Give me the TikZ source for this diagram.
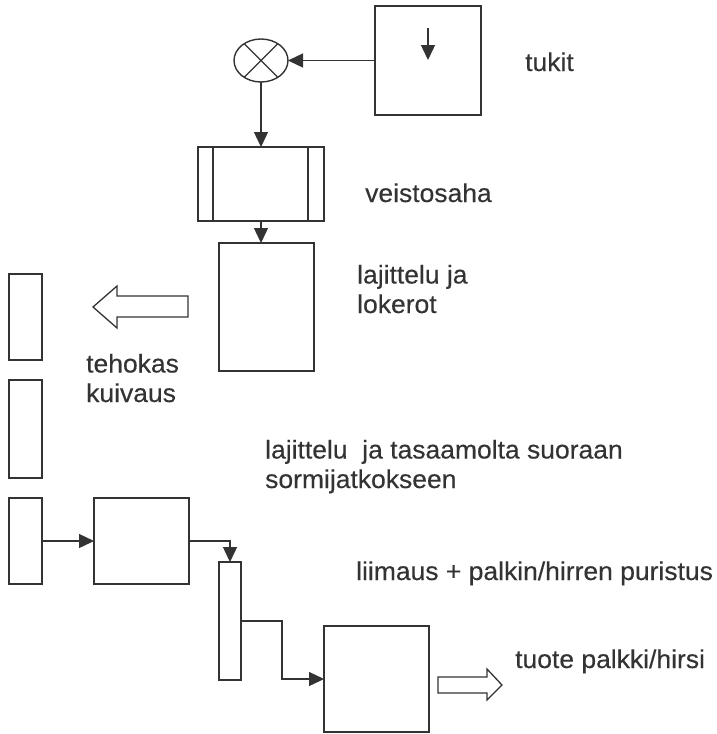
\documentclass[tikz,border=0pt]{standalone}
\usepackage{fontspec}
\setmainfont{Liberation Sans}[FakeStretch=1.03,FakeBold=0.3]
\usetikzlibrary{arrows.meta,shapes.geometric}
\definecolor{ink}{HTML}{333333}
\begin{document}
\begin{tikzpicture}[x=1pt,y=-1pt,
  box/.style={draw=ink,line width=1.4pt,inner sep=0pt,outer sep=0pt},
  conn/.style={draw=ink,line width=1.4pt,-{Triangle[length=15pt,width=14pt]}},
  lbl/.style={text=ink,font=\fontsize{25.7}{29.5}\selectfont,inner sep=0pt,anchor=base west,align=left},
  hollow/.style={draw=ink,line width=1.3pt,fill=white,line join=miter}]
\useasboundingbox (0,0) rectangle (716,734);
% top
\node[box,minimum width=106pt,minimum height=109pt] (tuk) at (428,60.5) {};
\coordinate (ia) at (428,28);
\coordinate (ib) at (428,60);
\draw[conn] (ia) -- (ib);
\node[box,ellipse,minimum width=54pt,minimum height=43pt] (mix) at (261,60.5) {};
\draw[ink,line width=1.2pt] (mix.45) -- (mix.225) (mix.135) -- (mix.315);
\draw[conn] (tuk.west) -- (mix.east);
\node[box,minimum width=126pt,minimum height=74pt] (saw) at (261,184) {};
\draw[ink,line width=1.2pt] ([xshift=15pt]saw.north west) -- ([xshift=15pt]saw.south west)
  ([xshift=-16pt]saw.north east) -- ([xshift=-16pt]saw.south east);
\draw[conn] (mix.south) -- (saw.north);
\node[box,minimum width=95pt,minimum height=128pt] (sort) at (266.5,307) {};
\draw[conn] (saw.south) -- (saw.south |- sort.north);
% hollow left arrow
\draw[hollow] (93,307) -- (117,286) -- (117,296) -- (188,296) -- (188,317) -- (117,317) -- (117,328) -- cycle;
% left column
\node[box,minimum width=33pt,minimum height=86pt] (b1) at (25.5,317) {};
\node[box,minimum width=33pt,minimum height=98pt] (b2) at (25.5,429) {};
\node[box,minimum width=33pt,minimum height=86pt] (b3) at (25.5,541) {};
\node[box,minimum width=95pt,minimum height=86pt] (b4) at (141.5,541) {};
\node[box,minimum width=22pt,minimum height=118pt] (b5) at (230,621) {};
\node[box,minimum width=105pt,minimum height=106pt] (b6) at (376.5,679) {};
\draw[conn] (b3.east) -- (b4.west);
\draw[conn] (b4.east) -| (b5.north);
\coordinate (bend) at (282,621);
\draw[conn] (b5.east) -- (bend) |- (b6.west);
% hollow right arrow
\draw[hollow] (438,677) -- (487,677) -- (487,669) -- (502,685) -- (487,700) -- (487,693) -- (438,693) -- cycle;
% labels
\node[lbl] (t1) at (525,71) {tukit};
\node[lbl] (t2) at (365,202) {veistosaha};
\node[lbl] (t3) at (357,313) {lajittelu ja\\lokerot};
\node[lbl] (t4) at (86,402) {tehokas\\kuivaus};
\node[lbl] (t5) at (265,488) {lajittelu\ \ ja tasaamolta suoraan\\sormijatkokseen};
\node[lbl] (t6) at (356,580) {liimaus + palkin/hirren puristus};
\node[lbl] (t7) at (515,668) {tuote palkki/hirsi};
\end{tikzpicture}
\end{document}
